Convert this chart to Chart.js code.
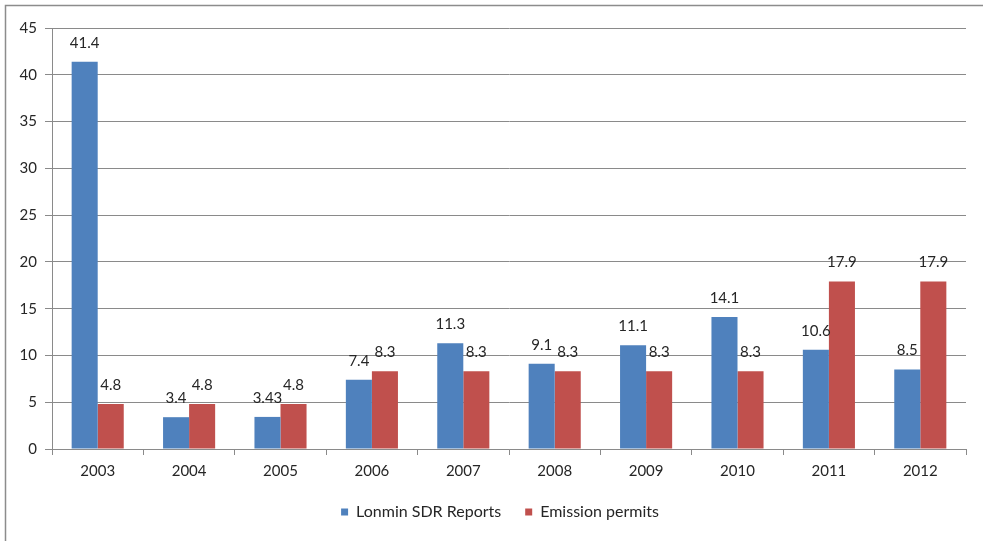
<!DOCTYPE html>
<html>
<head>
<meta charset="utf-8">
<script src="https://cdn.jsdelivr.net/npm/chart.js@4.4.1/dist/chart.umd.min.js"></script>
<style>
html,body{margin:0;padding:0;background:#fff;}
#wrap{position:relative;width:983px;height:541px;}
</style>
</head>
<body>
<div id="wrap"><canvas id="c" width="983" height="541"></canvas></div>
<script>
const categories = ["2003","2004","2005","2006","2007","2008","2009","2010","2011","2012"];
const lonminSDR = [41.4, 3.4, 3.43, 7.4, 11.3, 9.1, 11.1, 14.1, 10.6, 8.5];
const emissionPermits = [4.8, 4.8, 4.8, 8.3, 8.3, 8.3, 8.3, 8.3, 17.9, 17.9];
const lonminLabels = ["41.4","3.4","3.43","7.4","11.3","9.1","11.1","14.1","10.6","8.5"];
const permitLabels = ["4.8","4.8","4.8","8.3","8.3","8.3","8.3","8.3","17.9","17.9"];
const seriesNames = ["Lonmin SDR Reports", "Emission permits"];
const yTicks = [0,5,10,15,20,25,30,35,40,45];

const FONT = "Lato, 'Open Sans', sans-serif";
const TEXT = "#262626";
const GRID = "#8a8a8a";

const frame = {
  id: 'frame',
  beforeDraw(chart) {
    const ctx = chart.ctx;
    ctx.save();
    ctx.strokeStyle = '#8c8c8c';
    ctx.lineWidth = 1.5;
    ctx.beginPath();
    ctx.moveTo(5.5, 541);
    ctx.lineTo(5.5, 5.5);
    ctx.lineTo(983, 5.5);
    ctx.stroke();
    ctx.restore();
  }
};

const legendShift = {
  id: 'legendShift',
  afterUpdate(chart) {
    const l = chart.legend;
    if (!l) return;
    l.left += 17;
    l.right += 17;
    l.adjustHitBoxes();
  }
};

const valueLabels = {
  id: 'valueLabels',
  afterDatasetsDraw(chart) {
    const ctx = chart.ctx;
    const labelSets = [lonminLabels, permitLabels];
    ctx.save();
    ctx.font = "15px " + FONT;
    ctx.fillStyle = TEXT;
    ctx.textAlign = 'center';
    ctx.textBaseline = 'middle';
    chart.data.datasets.forEach((ds, di) => {
      const meta = chart.getDatasetMeta(di);
      meta.data.forEach((bar, i) => {
        ctx.fillText(labelSets[di][i], bar.x, bar.y - 19);
      });
    });
    ctx.restore();
  }
};

new Chart(document.getElementById('c'), {
  type: 'bar',
  data: {
    labels: categories,
    datasets: [
      { label: seriesNames[0], data: lonminSDR, backgroundColor: '#4F81BD', borderWidth: 0,
        categoryPercentage: 0.57, barPercentage: 1.0 },
      { label: seriesNames[1], data: emissionPermits, backgroundColor: '#C0504D', borderWidth: 0,
        categoryPercentage: 0.57, barPercentage: 1.0 }
    ]
  },
  options: {
    responsive: false,
    devicePixelRatio: 1,
    animation: false,
    layout: { padding: { left: 0, right: 17, top: 28, bottom: 11 } },
    plugins: {
      tooltip: { enabled: false },
      legend: {
        position: 'bottom',
        labels: {
          boxWidth: 7, boxHeight: 7, padding: 24,
          color: TEXT,
          font: { family: FONT, size: 16 }
        }
      }
    },
    scales: {
      x: {
        offset: true,
        grid: { display: true, drawOnChartArea: false, drawTicks: true, tickLength: 6, color: GRID, offset: true },
        border: { display: true, color: GRID, width: 1 },
        ticks: { color: TEXT, font: { family: FONT, size: 15 }, padding: 7, maxRotation: 0 },
        afterFit(s) { s.height = 31; }
      },
      y: {
        min: 0, max: 45,
        afterBuildTicks(s) { s.ticks = yTicks.map(v => ({ value: v })); },
        grid: { color: GRID, tickLength: 7, lineWidth: 1 },
        border: { display: true, color: GRID, width: 1 },
        ticks: { color: TEXT, font: { family: FONT, size: 15 }, padding: 8 },
        afterFit(s) { s.width = 52; }
      }
    }
  },
  plugins: [frame, legendShift, valueLabels]
});
</script>
</body>
</html>
